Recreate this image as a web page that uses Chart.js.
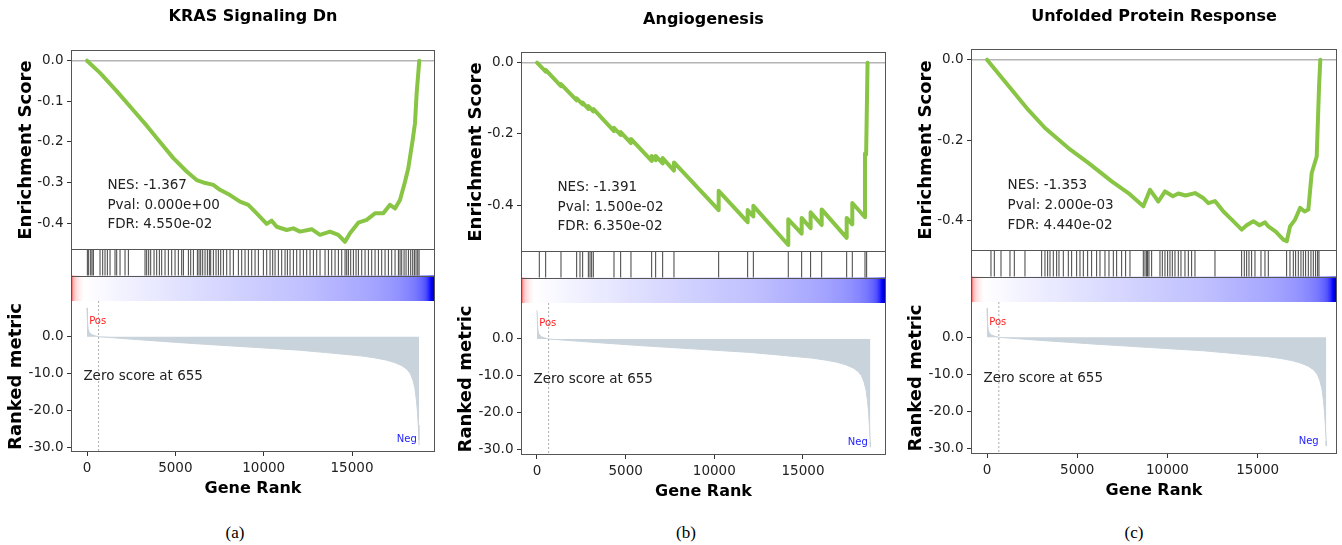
<!DOCTYPE html>
<html>
<head>
<meta charset="utf-8">
<script src="https://cdn.jsdelivr.net/npm/chart.js@4.4.0/dist/chart.umd.min.js"></script>
<style>
  body { margin: 0; background: #fff; }
  #fig { position: relative; width: 1342px; height: 545px; overflow: hidden; }
  #fig canvas { position: absolute; }
  .cap { position: absolute; font-family: 'Liberation Serif', serif; font-size: 17px; color: #000; transform: translate(-50%, -50%); }
</style>
</head>
<body>
<div id="fig"></div>
<script>
// ---------------- data ----------------
const panelTitles = ['KRAS Signaling Dn', 'Angiogenesis', 'Unfolded Protein Response'];
const panelCaptions = ['(a)', '(b)', '(c)'];
const nesValues = ['-1.367', '-1.391', '-1.353'];
const pValues = ['0.000e+00', '1.500e-02', '2.000e-03'];
const fdrValues = ['4.550e-02', '6.350e-02', '4.440e-02'];
const zeroScoreRank = 655;

const geneRankTicks = [0, 5000, 10000, 15000];
const esTicksKras = [-0.4, -0.3, -0.2, -0.1, 0];
const esTicksAngio = [-0.4, -0.2, 0];
const esTicksUpr = [-0.4, -0.2, 0];
const metricTicks = [-30, -20, -10, 0];

// running enrichment score: [gene rank, ES]
const esKras = [[0,0],[736,-0.030],[1680,-0.075],[2622,-0.122],[3378,-0.160],[4132,-0.200],[4886,-0.240],[5640,-0.273],[6206,-0.294],[6584,-0.300],[7150,-0.306],[7528,-0.318],[8094,-0.331],[8660,-0.347],[9130,-0.355],[9605,-0.376],[10171,-0.402],[10454,-0.394],[10737,-0.409],[11303,-0.417],[11680,-0.413],[12056,-0.421],[12718,-0.415],[13188,-0.429],[13754,-0.421],[14224,-0.429],[14603,-0.446],[14886,-0.425],[15356,-0.399],[15830,-0.392],[16300,-0.376],[16771,-0.376],[17150,-0.355],[17433,-0.364],[17716,-0.343],[17999,-0.298],[18186,-0.265],[18435,-0.195],[18565,-0.154],[18660,-0.080],[18808,0]];
const esAngio = [[0,0],[490,-0.025],[490,-0.020],[1353,-0.066],[1353,-0.060],[2237,-0.106],[2237,-0.100],[2575,-0.117],[2575,-0.112],[2895,-0.130],[2895,-0.122],[3175,-0.137],[3175,-0.130],[4342,-0.192],[4342,-0.183],[4718,-0.203],[4718,-0.195],[5300,-0.226],[5300,-0.214],[6466,-0.276],[6466,-0.262],[6692,-0.274],[6692,-0.262],[7087,-0.283],[7087,-0.268],[7725,-0.303],[7725,-0.280],[10245,-0.414],[10245,-0.360],[11880,-0.448],[11880,-0.414],[12200,-0.432],[12200,-0.402],[14170,-0.512],[14170,-0.440],[14925,-0.480],[14925,-0.436],[15430,-0.465],[15430,-0.420],[16054,-0.456],[16054,-0.412],[17464,-0.492],[17464,-0.436],[17780,-0.454],[17780,-0.394],[18496,-0.434],[18496,-0.255],[18560,-0.258],[18640,0]];
const esUpr = [[0,0],[1368,-0.075],[2290,-0.125],[3214,-0.170],[4506,-0.220],[5614,-0.257],[6911,-0.303],[7831,-0.332],[8662,-0.365],[9034,-0.324],[9495,-0.353],[9866,-0.328],[10300,-0.340],[10603,-0.333],[11000,-0.338],[11528,-0.332],[12000,-0.345],[12265,-0.357],[12632,-0.352],[13100,-0.378],[13560,-0.398],[14114,-0.423],[14387,-0.412],[14757,-0.402],[15100,-0.412],[15403,-0.405],[15590,-0.415],[16000,-0.428],[16420,-0.448],[16610,-0.452],[16793,-0.415],[17070,-0.398],[17347,-0.369],[17600,-0.378],[17807,-0.373],[17992,-0.282],[18270,-0.241],[18400,-0.066],[18470,0]];

// gene set hits (gene rank)
const hitsKras = [20,95,209,284,360,737,888,1020,1152,1303,1586,1681,1869,2152,2341,3284,3379,3492,3605,3794,3945,4096,4228,4417,4605,4794,4983,5171,5360,5455,5738,5870,6021,6247,6342,6436,6549,6681,6813,6926,7002,7153,7304,7436,7568,7719,7908,8096,8285,8568,8757,8945,9134,9323,9512,9700,9983,10172,10361,10512,10644,10832,11021,11210,11342,11493,11682,11870,12059,12248,12436,12625,12814,13002,13191,13474,13663,13852,14040,14229,14418,14607,14701,14795,14927,15078,15229,15361,15550,15739,15927,16116,16305,16494,16682,16871,17060,17248,17437,17626,17720,17815,17947,18060,18192,18324,18437,18531,18625,18720,18796];
const hitsAngio = [130,490,1353,2237,2425,2575,2895,2990,3083,3175,4342,4718,5300,6466,6692,7087,7725,10245,11880,12200,14170,14925,15430,16054,17464,17780,18496,18590];
const hitsUpr = [220,405,775,1273,1513,2104,3028,3212,3360,3490,3674,3859,3988,4228,4505,4690,4967,5152,5337,5577,5798,6075,6260,6537,6759,6999,7184,7461,7682,7922,8661,8754,8846,8901,8975,9123,9585,9714,9862,10009,10138,10268,10416,10600,10748,10970,11155,11339,11524,12632,14110,14257,14387,14516,14664,14849,15181,15403,15587,16603,16788,16973,17102,17249,17397,17526,17656,17804,17951,18081,18210,18321,18395];

// ranked metric (shared by all three panels): [gene rank, metric]
const rankedMetric = [[0,7.8],[25,4.5],[60,2.2],[120,1.2],[250,0.6],[450,0.25],[655,0],[1500,-0.3],[3000,-0.85],[4500,-1.35],[6000,-1.85],[7500,-2.3],[9000,-2.75],[10500,-3.2],[12000,-3.65],[13500,-4.3],[14500,-4.75],[15500,-5.2],[16300,-5.75],[16900,-6.3],[17400,-7.0],[17800,-7.8],[18100,-8.8],[18300,-10],[18450,-11.8],[18560,-14],[18640,-17],[18700,-20],[18750,-24],[18790,-28],[18800,-29.4]];

// ---------------- layout ----------------
const AXW = 71, XAH = 46, PADR = 4;
const panelBoxes = [
  { left: 71, right: 435, esTop: 50, esBottom: 250, stripBottom: 301, metBottom: 452, titleY: 17.3, capX: 235, capY: 533 },
  { left: 521, right: 886, esTop: 52, esBottom: 252, stripBottom: 303, metBottom: 455, titleY: 19.5, capX: 686, capY: 533 },
  { left: 971, right: 1337, esTop: 49, esBottom: 251, stripBottom: 302, metBottom: 454, titleY: 16.7, capX: 1134, capY: 533 }
];
const panelRanges = [
  { xMin: -906, xMax: 19698, esMin: -0.4663, esMax: 0.0264, metMin: -31.27, metMax: 9.68 },
  { xMin: -902, xMax: 19681, esMin: -0.5317, esMax: 0.0300, metMin: -31.55, metMax: 9.79 },
  { xMin: -887, xMax: 19394, esMin: -0.4762, esMax: 0.0266, metMin: -31.54, metMax: 9.54 }
];
const esSeries = [esKras, esAngio, esUpr];
const esTickSets = [esTicksKras, esTicksAngio, esTicksUpr];
const hitSets = [hitsKras, hitsAngio, hitsUpr];

Chart.defaults.font.family = "'DejaVu Sans', sans-serif";
Chart.defaults.color = '#222';
Chart.defaults.animation = false;

const fig = document.getElementById('fig');

function makeCanvas(x, y, w, h) {
  let c = document.createElement('canvas');
  c.width = w; c.height = h;
  c.style.left = x + 'px'; c.style.top = y + 'px';
  c.style.width = w + 'px'; c.style.height = h + 'px';
  fig.appendChild(c);
  return c.getContext('2d');
}

// axes frame (spines)
const framePlugin = {
  id: 'frame',
  afterDatasetsDraw(chart, args, opts) {
    let { ctx, chartArea: a } = chart;
    let sides = opts.sides || '';
    ctx.save();
    ctx.strokeStyle = '#555';
    ctx.lineWidth = 1;
    ctx.beginPath();
    if (sides.includes('l')) { ctx.moveTo(a.left + 0.5, a.top); ctx.lineTo(a.left + 0.5, a.bottom); }
    if (sides.includes('r')) { ctx.moveTo(a.right - 0.5, a.top); ctx.lineTo(a.right - 0.5, a.bottom); }
    if (sides.includes('t')) { ctx.moveTo(a.left, a.top + 0.5); ctx.lineTo(a.right, a.top + 0.5); }
    if (sides.includes('b')) { ctx.moveTo(a.left, a.bottom - 0.5); ctx.lineTo(a.right, a.bottom - 0.5); }
    (opts.splits || []).forEach(v => {
      let y = Math.round(chart.scales.y.getPixelForValue(v)) + 0.5;
      ctx.moveTo(a.left, y); ctx.lineTo(a.right, y);
    });
    ctx.stroke();
    ctx.restore();
  }
};

// text placed in axes fractions
const notesPlugin = {
  id: 'notes',
  afterDatasetsDraw(chart, args, opts) {
    let { ctx, chartArea: a } = chart;
    (opts.items || []).forEach(n => {
      ctx.save();
      ctx.font = n.font;
      ctx.fillStyle = n.color || '#222';
      ctx.textAlign = n.align || 'left';
      ctx.textBaseline = 'middle';
      ctx.fillText(n.text, a.left + n.fx * (a.right - a.left), a.bottom - n.fy * (a.bottom - a.top));
      ctx.restore();
    });
  }
};

// matplotlib "seismic" colormap with the midpoint at zero
function seismic(p) {
  let r, g, b;
  if (p < 0.25) { r = 0; g = 0; b = 0.45 + 0.55 * p / 0.25; }
  else if (p < 0.5) { let t = (p - 0.25) / 0.25; r = t; g = t; b = 1; }
  else if (p < 0.75) { let t = (p - 0.5) / 0.25; r = 1; g = 1 - t; b = 1 - t; }
  else { let t = (p - 0.75) / 0.25; r = 1 - 0.5 * t; g = 0; b = 0; }
  return `rgb(${Math.round(r * 255)}, ${Math.round(g * 255)}, ${Math.round(b * 255)})`;
}
const metricLow = Math.min(...rankedMetric.map(d => d[1]));
const metricHigh = Math.max(...rankedMetric.map(d => d[1]));
let metricColor = v => seismic(v < 0 ? 0.5 - 0.5 * v / metricLow : 0.5 + 0.5 * v / metricHigh);

function colorbarFill(c) {
  let area = c.chart.chartArea;
  if (!area) return '#ccf';
  let g = c.chart.ctx.createLinearGradient(area.left, 0, area.right, 0);
  let n = rankedMetric[rankedMetric.length - 1][0];
  rankedMetric.forEach(([r, v]) => g.addColorStop(r / n, metricColor(v)));
  return g;
}

function yAxis(min, max, ticks, title, titlePad) {
  return {
    min, max,
    afterBuildTicks: s => { s.ticks = ticks.map(v => ({ value: v })); },
    afterFit: s => { s.width = AXW; s.paddingTop = 0; s.paddingBottom = 0; },
    ticks: { font: { size: 13.5 }, color: '#222', padding: 3.5, callback: v => Number(v).toFixed(1) },
    grid: { drawOnChartArea: false, tickLength: 4, tickColor: '#333' },
    border: { display: false },
    title: { display: true, text: title, color: '#000', font: { size: 18, weight: 'bold' }, padding: { top: titlePad, bottom: 0 } }
  };
}

const baseOptions = () => ({
  responsive: false,
  animation: false,
  events: [],
  plugins: { legend: { display: false }, tooltip: { enabled: false } }
});

function pts(arr) { return arr.map(([x, y]) => ({ x, y })); }

panelBoxes.forEach((b, i) => {
  let r = panelRanges[i];
  let x0 = b.left - AXW;
  let w = AXW + (b.right - b.left) + PADR;

  /* ===== enrichment score ===== */
  let esOpts = baseOptions();
  esOpts.layout = { padding: { left: 0, right: PADR, top: 0, bottom: 0 } };
  esOpts.scales = {
    x: { type: 'linear', min: r.xMin, max: r.xMax, display: false },
    y: yAxis(r.esMin, r.esMax, esTickSets[i], 'Enrichment Score', 15.9)
  };
  esOpts.plugins.title = {
    display: true, text: panelTitles[i], fullSize: false, color: '#000',
    font: { size: 16, weight: 'bold' },
    padding: { top: b.titleY - 9.6, bottom: b.esTop - b.titleY - 9.6 }
  };
  esOpts.plugins.frame = { sides: 'ltrb' };
  esOpts.plugins.notes = { items: [
    { text: 'NES: ' + nesValues[i], fx: 0.1, fy: 0.322, font: '13.5px "DejaVu Sans"' },
    { text: 'Pval: ' + pValues[i], fx: 0.1, fy: 0.225, font: '13.5px "DejaVu Sans"' },
    { text: 'FDR: ' + fdrValues[i], fx: 0.1, fy: 0.128, font: '13.5px "DejaVu Sans"' }
  ] };
  new Chart(makeCanvas(x0, 0, w, b.esBottom), {
    type: 'line',
    data: { datasets: [
      { data: pts(esSeries[i]), borderColor: '#88C544', borderWidth: 4, pointRadius: 0, borderJoinStyle: 'round', borderCapStyle: 'round' },
      { data: [{ x: r.xMin, y: 0 }, { x: r.xMax, y: 0 }], borderColor: '#b4b4b4', borderWidth: 1.5, pointRadius: 0 }
    ] },
    options: esOpts,
    plugins: [framePlugin, notesPlugin]
  });

  /* ===== hits + colour bar ===== */
  let stripOpts = baseOptions();
  stripOpts.layout = { padding: { left: AXW, right: PADR, top: 0, bottom: 0 } };
  stripOpts.scales = {
    x: { type: 'linear', min: r.xMin, max: r.xMax, display: false },
    y: { min: 0, max: 2, display: false }
  };
  stripOpts.plugins.frame = { sides: 'lr', splits: [1] };
  new Chart(makeCanvas(x0, b.esBottom, w, b.stripBottom - b.esBottom), {
    type: 'line',
    data: { datasets: [
      { data: hitSets[i].flatMap(h => [{ x: h, y: 1 }, { x: h, y: 2 }, { x: h, y: null }]), borderColor: 'rgba(0,0,0,0.75)', borderWidth: 1, pointRadius: 0, spanGaps: false },
      { data: [{ x: r.xMin, y: 1 }, { x: r.xMax, y: 1 }], borderColor: 'rgba(0,0,0,0)', borderWidth: 1, pointRadius: 0, fill: 'origin', backgroundColor: colorbarFill }
    ] },
    options: stripOpts,
    plugins: [framePlugin]
  });

  /* ===== ranked metric ===== */
  let metOpts = baseOptions();
  metOpts.layout = { padding: { left: 0, right: PADR, top: 0, bottom: 0 } };
  metOpts.scales = {
    x: {
      type: 'linear', min: r.xMin, max: r.xMax,
      afterBuildTicks: s => { s.ticks = geneRankTicks.map(v => ({ value: v })); },
      afterFit: s => { s.height = XAH; s.paddingLeft = 0; s.paddingRight = 0; },
      ticks: { font: { size: 13.5 }, color: '#222', padding: 4.3, maxRotation: 0, callback: v => String(v) },
      grid: { drawOnChartArea: false, tickLength: 4, tickColor: '#333' },
      border: { display: false },
      title: { display: true, text: 'Gene Rank', color: '#000', font: { size: 16, weight: 'bold' }, padding: { top: 0, bottom: 0 } }
    },
    y: yAxis(r.metMin, r.metMax, metricTicks, 'Ranked metric', 5.9)
  };
  metOpts.plugins.frame = { sides: 'lrb' };
  metOpts.plugins.notes = { items: [
    { text: 'Pos', fx: 0.05, fy: 0.863, color: '#ff2020', font: '10px "DejaVu Sans"' },
    { text: 'Neg', fx: 0.95, fy: 0.086, align: 'right', color: '#2020ff', font: '10px "DejaVu Sans"' },
    { text: 'Zero score at ' + zeroScoreRank, fx: 0.034, fy: 0.5, font: '13.5px "DejaVu Sans"' }
  ] };
  new Chart(makeCanvas(x0, b.stripBottom, w, b.metBottom - b.stripBottom + XAH), {
    type: 'line',
    data: { datasets: [
      { data: [{ x: zeroScoreRank, y: r.metMax }, { x: zeroScoreRank, y: r.metMin }], borderColor: 'rgba(120,120,120,0.6)', borderWidth: 1, borderDash: [2, 2], pointRadius: 0 },
      { data: pts(rankedMetric), borderColor: '#C9D3DB', borderWidth: 1, pointRadius: 0, fill: 'origin', backgroundColor: '#C9D3DB' }
    ] },
    options: metOpts,
    plugins: [framePlugin, notesPlugin]
  });

  let cap = document.createElement('div');
  cap.className = 'cap';
  cap.textContent = panelCaptions[i];
  cap.style.left = b.capX + 'px';
  cap.style.top = b.capY + 'px';
  fig.appendChild(cap);
});
</script>
</body>
</html>
